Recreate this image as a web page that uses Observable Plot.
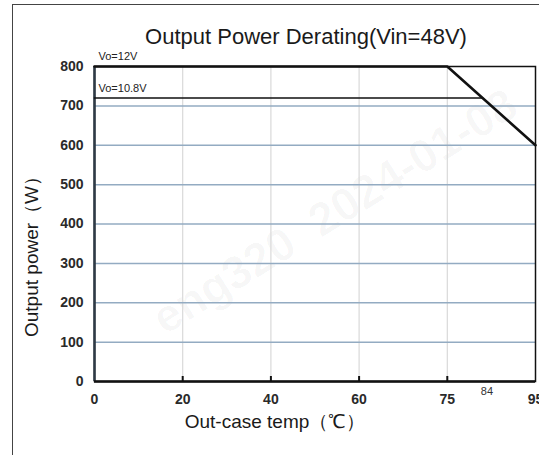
<!DOCTYPE html>
<html>
<head>
<meta charset="utf-8">
<script src="https://cdn.jsdelivr.net/npm/d3@7"></script>
<script src="https://cdn.jsdelivr.net/npm/@observablehq/plot@0.6"></script>
<style>
  html, body { margin: 0; padding: 0; background: #fff; }
  #wrap { position: relative; width: 539px; height: 455px; overflow: hidden; }
  #border { position: absolute; left: 12px; top: 4px; width: 560px; height: 480px; border: 1.5px solid #444; box-sizing: border-box; pointer-events: none; }
</style>
</head>
<body>
<div id="wrap"><div id="border"></div></div>
<script>
// ---- data ----
const title = "Output Power Derating(Vin=48V)";
const xLabel = "Out-case temp（℃）";
const yLabel = "Output power（W）";
const xTicks = [0, 20, 40, 60, 75, 95];
const xGrid = [20, 40, 60, 75];
const yTicks = [0, 100, 200, 300, 400, 500, 600, 700, 800];
const yGrid = [100, 200, 300, 400, 500, 600, 700];
const temp12 = [0, 75, 95];
const power12 = [800, 800, 600];
const temp108 = [0, 83];
const power108 = [720, 720];
const seriesLabels = ["Vo=12V", "Vo=10.8V"];
const seriesLabelY = [800, 720];
const extraTick = [84];
const watermark = "eng320  2024-01-08";

// ---- layout ----
const W = 539, H = 455;
const mL = 94, mR = 4, mT = 66, mB = 74;
const xRange = xTicks.map((d, i) => mL + i * (W - mL - mR) / (xTicks.length - 1));
const FONT = "Liberation Sans, Arial, sans-serif";

const line12 = temp12.map((t, i) => ({t, p: power12[i]}));
const line108 = temp108.map((t, i) => ({t, p: power108[i]}));

const chart = Plot.plot({
  width: W, height: H,
  marginLeft: mL, marginRight: mR, marginTop: mT, marginBottom: mB,
  style: {fontFamily: FONT, background: "transparent"},
  x: {type: "linear", domain: xTicks, range: xRange, label: null},
  y: {domain: [0, 800], label: null},
  marks: [
    Plot.text([watermark], {frameAnchor: "middle", textAnchor: "middle", lineAnchor: "middle", dx: 20, dy: -12, rotate: -32, fontSize: 46, fontWeight: "bold", fill: "#000", fillOpacity: 0.03, fontFamily: FONT}),
    Plot.ruleX(xGrid, {stroke: "#d9d9d9", strokeWidth: 1.2}),
    Plot.ruleY(yGrid, {stroke: "#93abc2", strokeWidth: 1.5}),
    Plot.frame({stroke: "#111", strokeWidth: 1.5}),
    Plot.ruleX(xGrid, {stroke: "#111", strokeWidth: 2, insetTop: H - mT - mB - 5}),
    Plot.ruleX([0], {stroke: "#2e3a46", strokeWidth: 2.5}),
    Plot.ruleY([0], {stroke: "#111", strokeWidth: 2.5}),
    Plot.line(line108, {x: "t", y: "p", stroke: "#111", strokeWidth: 1.6}),
    Plot.line(line12, {x: "t", y: "p", stroke: "#111", strokeWidth: 2.6}),
    Plot.text(seriesLabels, {x: 0, y: (d, i) => seriesLabelY[i], text: d => d, textAnchor: "start", dx: 4, dy: -10, fontSize: 11, fill: "#222", fontFamily: FONT}),
    Plot.axisY({ticks: yTicks, tickSize: 0, tickPadding: 11, fontSize: 14, fontWeight: "bold", fill: "#2a2a2a", fontFamily: FONT, label: null}),
    Plot.axisX({ticks: xTicks, tickSize: 0, tickPadding: 13, fontSize: 14, fontWeight: "bold", fill: "#2a2a2a", fontFamily: FONT, label: null, tickFormat: d => String(d)}),
    Plot.text(extraTick, {x: d => d, frameAnchor: "bottom", lineAnchor: "middle", dy: 10, text: d => String(d), fontSize: 11, fill: "#333", fontFamily: FONT}),
    Plot.text([title], {frameAnchor: "top", textAnchor: "middle", lineAnchor: "middle", dx: -9, dy: -30, fontSize: 22, fill: "#1a1a1a", fontFamily: FONT}),
    Plot.text([yLabel], {frameAnchor: "left", textAnchor: "middle", lineAnchor: "middle", dx: -63, dy: 28, rotate: -90, fontSize: 19, fill: "#1a1a1a", fontFamily: FONT}),
    Plot.text([xLabel], {frameAnchor: "bottom", textAnchor: "middle", lineAnchor: "middle", dx: -40, dy: 40, fontSize: 19, fill: "#1a1a1a", fontFamily: FONT})
  ]
});
chart.style.position = "absolute";
chart.style.left = "0";
chart.style.top = "0";
document.getElementById("wrap").appendChild(chart);
</script>
</body>
</html>
